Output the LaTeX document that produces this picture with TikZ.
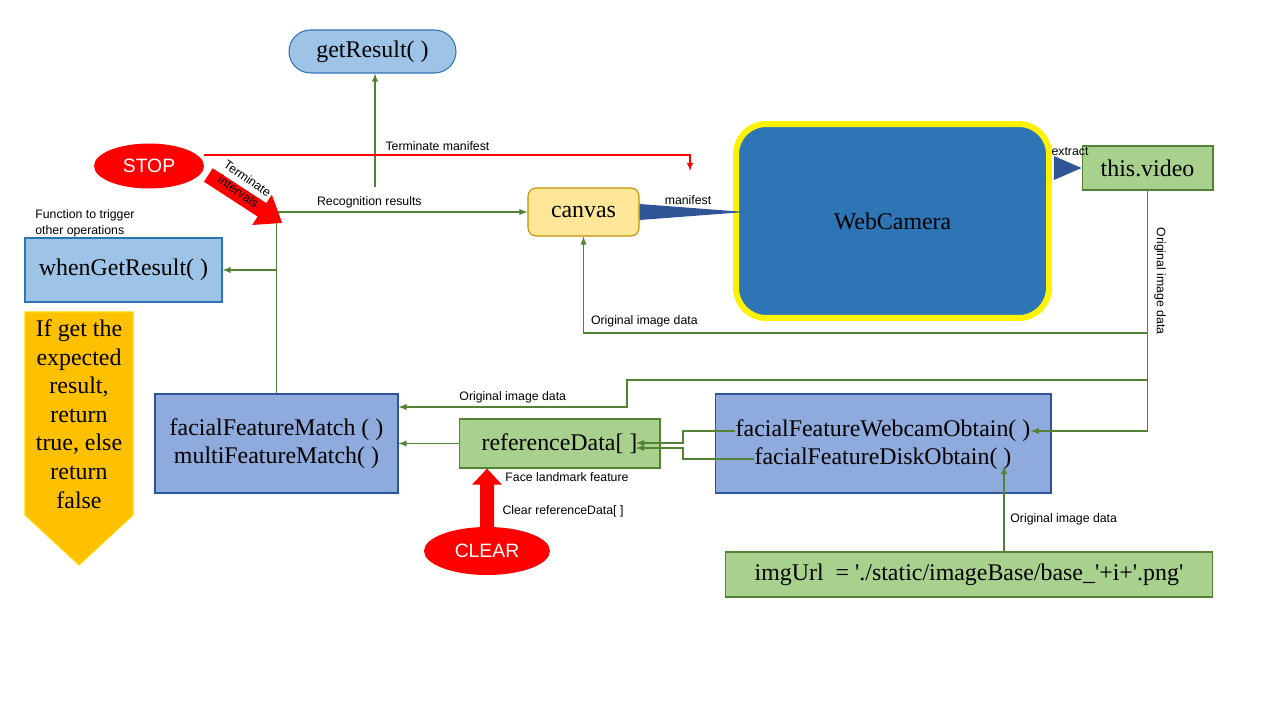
\documentclass[tikz,border=0pt]{standalone}
\usepackage{fontspec}
\setmainfont{Liberation Serif}
\setsansfont{Liberation Sans}
\usetikzlibrary{arrows,shapes.geometric,calc}
\definecolor{lblue}{RGB}{157,195,230}
\definecolor{dblue}{RGB}{46,117,182}
\definecolor{mblue}{RGB}{143,170,220}
\definecolor{nblue}{RGB}{47,85,151}
\definecolor{lgreen}{RGB}{169,209,142}
\definecolor{dgreen}{RGB}{84,130,53}
\definecolor{lyellow}{RGB}{255,230,153}
\definecolor{dyellow}{RGB}{191,144,0}
\definecolor{amber}{RGB}{255,192,0}
\begin{document}
\begin{tikzpicture}[x=0.02cm, y=-0.02cm, >=latex,
txt/.style={inner sep=0pt, font=\fontsize{13.6}{15.9}\selectfont, align=center},
box/.style={txt, draw, line width=0.6pt},
resbox/.style={box, fill=lblue, draw=dblue},
funcbox/.style={box, fill=mblue, draw=nblue},
databox/.style={box, fill=lgreen, draw=dgreen},
btn/.style={ellipse, fill=red, text=white, inner sep=0pt, font=\sffamily\fontsize{11}{13}\selectfont},
lbl/.style={inner sep=0pt, text=black, align=center, font=\sffamily\fontsize{7}{9}\selectfont},
flow/.style={dgreen, line width=0.6pt},
tri/.style={fill=nblue}]
\useasboundingbox (0,0) rectangle (1280,720);
\node[resbox, rounded corners=0.43cm, minimum width=3.34cm, minimum height=0.86cm] (getres) at (372.5,51.5) {getResult( )};
\node[btn, minimum width=2.2cm, minimum height=0.9cm] (stop) at (149,166) {STOP};
\node[resbox, minimum width=3.94cm, minimum height=1.28cm] (when) at (123.5,270) {whenGetResult( )};
\node[box, fill=lyellow, draw=dyellow, rounded corners=0.16cm, minimum width=2.22cm, minimum height=0.96cm] (canvas) at (583.5,212) {canvas};
\node[box, fill=dblue, draw=yellow, line width=3.4pt, rounded corners=0.6cm, minimum width=6.26cm, minimum height=3.88cm] (cam) at (892.5,221) {WebCamera};
\node[databox, minimum width=2.62cm, minimum height=0.88cm] (vid) at (1147.5,168) {this.video};
\node[funcbox, minimum width=4.86cm, minimum height=1.98cm] (match) at (276.5,443.5) {facialFeatureMatch ( )\\ multiFeatureMatch( )};
\node[databox, minimum width=4.02cm, minimum height=0.98cm] (refd) at (559.5,443.5) {referenceData[ ]};
\node[funcbox, minimum width=6.72cm, minimum height=1.98cm] (obtain) at (883,443.5) {};
\node[txt] (webobt) at (883,431) {facialFeatureWebcamObtain( )};
\node[txt] (diskobt) at (883,459) {facialFeatureDiskObtain( )};
\node[btn, minimum width=2.52cm, minimum height=0.96cm] (clear) at (487,551) {CLEAR};
\node[databox, minimum width=9.76cm, minimum height=0.9cm] (url) at (969,574.5) {imgUrl\ \ = \textquotesingle./static/imageBase/base\_\textquotesingle+i+\textquotesingle.png\textquotesingle};
\filldraw[fill=amber, draw=amber!60!yellow, line width=0.6pt] (25,312) -- (133,312) -- (133,515) -- (79,565) -- (25,515) -- cycle;
\node[txt, font=\fontsize{13.6}{16.3}\selectfont] (cond) at (79,414) {If get the\\expected\\result,\\return\\true, else\\return\\false};

\coordinate (recog) at (375,187);
\coordinate (mantip) at (690,171);
\coordinate (refhi) at (636,443);
\coordinate (reflo) at (636,448);
\coordinate (diskin) at (1004,466);

\draw[flow, ->] (match.north) -- (match.north |- canvas.west) -- (canvas.west)
  node[lbl, above=2pt, pos=0.37] {Recognition results};
\draw[flow, ->] (match.north |- when.east) -- (when.east);
\draw[flow, ->] (recog) -- (recog |- getres.south);
\draw[red, line width=0.6pt, ->] (stop.east |- 0,155) -- (mantip |- 0,155)
  node[lbl, above=2pt, pos=0.48] {Terminate manifest} -- (mantip);
\draw[flow, ->] (vid.south) -- (vid.south |- webobt.east) -- (webobt.east);
\draw[flow, ->] (vid.south |- 0,333) -- (canvas.south |- 0,333)
  node[lbl, anchor=south west, xshift=0.14cm, yshift=3pt] {Original image data} -- (canvas.south);
\draw[flow, ->] (vid.south |- 0,380) -- (627,380) -- (627,407) -- (match.east |- 0,407)
  node[lbl, above=2pt, midway] {Original image data};
\path[flow, ->] (refd) edge (match);
\draw[flow, ->] (webobt.west) -| (683,443) -- (refhi);
\draw[flow, ->] (diskobt.west) -| (683,448) -- (reflo);
\draw[flow, ->] (diskin |- url.north) -- (diskin);

\fill[tri] ($(canvas.east)+(0,-8)$) -- ($(cam.west |- canvas.east)+(12,0)$) -- ($(canvas.east)+(0,8)$) -- cycle;
\fill[tri] ($(cam.east |- vid.west)+(2,-12)$) -- (vid.west) -- ($(cam.east |- vid.west)+(2,12)$) -- cycle;
\begin{scope}[shift={($(stop.east)+(4,9)$)}, rotate=-33]
\fill[red] (0,-8) -- (64,-8) -- (64,-18) -- (88,0) -- (64,18) -- (64,8) -- (0,8) -- cycle;
\end{scope}
\begin{scope}[shift={(clear.north)}]
\fill[red] (-7,2) -- (-7,-42) -- (-15,-42) -- (0,-58) -- (15,-42) -- (7,-42) -- (7,2) -- cycle;
\end{scope}

\node[lbl, rotate=-35] (termlbl) at (243,185) {Terminate\\intervals};
\node[lbl, align=left, anchor=west] (funclbl) at (35,223) {Function to trigger\\other operations};
\node[lbl] (manlbl) at (688,200) {manifest};
\node[lbl] (extlbl) at (1070,152) {extract};
\node[lbl, rotate=-90] (vidlbl) at (1160,281) {Original image data};
\node[lbl] (facelbl) at (567,477) {Face landmark feature};
\node[lbl] (clrlbl) at (563,511) {Clear referenceData[ ]};
\node[lbl, anchor=west] (imglbl) at (1010,519) {Original image data};
\end{tikzpicture}
\end{document}
